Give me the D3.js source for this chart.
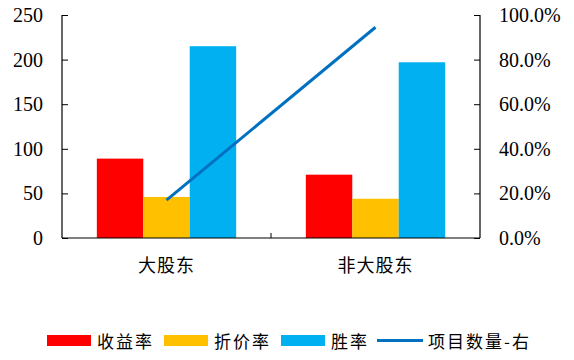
<!DOCTYPE html>
<html><head><meta charset="utf-8">
<script src="https://cdn.jsdelivr.net/npm/d3@7"></script>
<style>body{margin:0;background:#fff;} svg{display:block;}</style>
</head><body>
<svg id="chart" width="574" height="360"></svg>
<script>
const categories = ["大股东", "非大股东"];
const seriesNames = ["收益率", "折价率", "胜率"];
const returnRate = [89, 71];
const discountRate = [46, 44];
const winRate = [215, 197];
const lineName = "项目数量-右";
const projectCount = [0.17, 0.945];
const leftTicks = [0, 50, 100, 150, 200, 250];
const rightTicks = [0, 0.2, 0.4, 0.6, 0.8, 1.0];
const colors = ["#FF0000", "#FFC000", "#00B0F0"];
const lineColor = "#0070C0";

const svg = d3.select("#chart");
const m = {l: 62, r: 480, t: 15, b: 238};
const x = d3.scaleBand().domain(categories).range([m.l, m.r]).paddingInner(0).paddingOuter(0);
const inner = d3.scaleBand().domain(seriesNames)
  .range([x.bandwidth()/6, x.bandwidth()*5/6]).paddingInner(0).paddingOuter(0);
const yL = d3.scaleLinear().domain([0, 250]).range([m.b, m.t]);
const yR = d3.scaleLinear().domain([0, 1]).range([m.b, m.t]);

const series = [returnRate, discountRate, winRate];
series.forEach((vals, si) => {
  svg.append("g").selectAll("rect").data(vals).join("rect")
    .attr("x", (d, i) => x(categories[i]) + inner(seriesNames[si]))
    .attr("y", d => yL(d))
    .attr("width", inner.bandwidth())
    .attr("height", d => m.b - yL(d))
    .attr("fill", colors[si]);
});

const line = d3.line().x((d, i) => x(categories[i]) + x.bandwidth()/2).y(d => yR(d));
svg.append("path").datum(projectCount).attr("d", line)
  .attr("fill", "none").attr("stroke", lineColor).attr("stroke-width", 3);

const serif = "'Liberation Serif','Times New Roman',serif";
const cjk = "'Noto Sans CJK SC','Noto Sans',sans-serif";

const ga = svg.append("g").attr("transform", `translate(${m.l},0)`)
  .call(d3.axisLeft(yL).tickValues(leftTicks).tickSize(-6).tickPadding(19).tickFormat(d3.format("d")));
const gr = svg.append("g").attr("transform", `translate(${m.r},0)`)
  .call(d3.axisRight(yR).tickValues(rightTicks).tickSize(-6).tickPadding(19).tickFormat(d3.format(".1%")));
const gb = svg.append("g").attr("transform", `translate(0,${m.b})`)
  .call(d3.axisBottom(x).tickSize(-5).tickSizeOuter(0).tickFormat("").tickValues([]));
gb.append("line").attr("x1", x(categories[1])).attr("x2", x(categories[1])).attr("y1", 0).attr("y2", -5).attr("stroke", "#000");

[ga, gr].forEach(g => {
  g.selectAll("text").attr("font-family", serif).attr("font-size", 20).attr("fill", "#000");
  g.selectAll("line,path").attr("stroke", "#000");
  g.select(".domain").attr("stroke-width", 1.2);
});
ga.select(".domain").attr("d", `M0,${m.t}V${m.b}`);
gr.select(".domain").attr("d", `M0,${m.t}V${m.b}`);
gb.select(".domain").attr("stroke", "#000").attr("stroke-width", 1.2).attr("d", `M${m.l},0H${m.r}`);

svg.append("g").selectAll("text").data(categories).join("text")
  .attr("x", d => x(d) + x.bandwidth()/2).attr("y", 264)
  .attr("text-anchor", "middle").attr("dominant-baseline", "central")
  .attr("font-family", cjk).attr("font-size", 18).attr("letter-spacing", 1)
  .attr("fill", "#000").text(d => d);

const items = seriesNames.map((n, i) => ({name: n, color: colors[i], type: "rect"}))
  .concat([{name: lineName, color: lineColor, type: "line"}]);
const legX = [47, 164, 281, 377];
const lg = svg.append("g");
items.forEach((it, i) => {
  const gx = legX[i];
  if (it.type === "rect") {
    lg.append("rect").attr("x", gx).attr("y", 335).attr("width", 44).attr("height", 11).attr("fill", it.color);
  } else {
    lg.append("line").attr("x1", gx).attr("x2", gx + 46).attr("y1", 340.5).attr("y2", 340.5)
      .attr("stroke", it.color).attr("stroke-width", 3);
  }
  lg.append("text").attr("x", gx + (it.type === "rect" ? 50 : 51)).attr("y", 340.5)
    .attr("dominant-baseline", "central")
    .attr("font-family", cjk).attr("font-size", 17).attr("letter-spacing", 2)
    .attr("fill", "#000").text(it.name);
});
</script>
</body></html>
